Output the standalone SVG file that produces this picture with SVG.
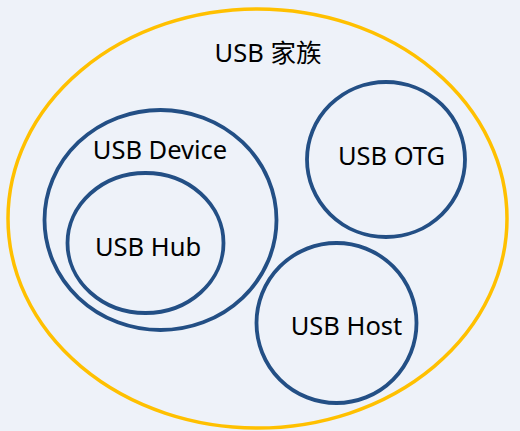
<svg xmlns="http://www.w3.org/2000/svg" width="520" height="431" viewBox="0 0 520 431">
<style>
.bg{fill:#EEF2F9}
.outer{fill:none;stroke:#FFC000;stroke-width:3.5}
.c{fill:none;stroke:#234F85;stroke-width:3.8}
text{font-family:"Noto Sans","Open Sans","Noto Sans CJK SC",sans-serif;font-size:25.5px;fill:#000;text-anchor:middle}
</style>
<rect class="bg" x="0" y="0" width="520" height="431"/>
<g id="family">
<ellipse class="outer" cx="257.5" cy="218.5" rx="249.5" ry="209.5"/>
<text x="268" y="62">USB 家族</text>
</g>
<g id="device">
<ellipse class="c" cx="160.5" cy="220" rx="116" ry="110"/>
<text x="160" y="159">USB Device</text>
</g>
<g id="hub">
<ellipse class="c" cx="145.5" cy="243" rx="78" ry="70"/>
<text x="148" y="256">USB Hub</text>
</g>
<g id="otg">
<ellipse class="c" cx="386" cy="159.5" rx="79" ry="77.5"/>
<text x="391.5" y="165">USB OTG</text>
</g>
<g id="host">
<ellipse class="c" cx="336.5" cy="323" rx="80" ry="80"/>
<text x="346.5" y="335">USB Host</text>
</g>
<g id="connectors"/>
</svg>
